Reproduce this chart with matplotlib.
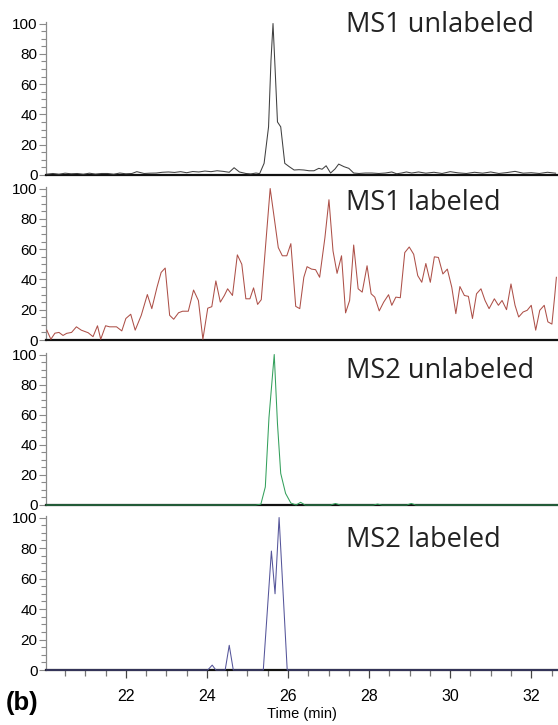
import matplotlib
matplotlib.use("Agg")
import matplotlib.pyplot as plt
from matplotlib.ticker import MultipleLocator

# MS1 unlabeled (time in min, relative abundance %)
ms1_unl_t = [
    20.05, 20.2, 20.35, 20.5, 20.65, 20.8, 20.95, 21.1, 21.25, 21.4,
    21.55, 21.7, 21.85, 22.0, 22.15, 22.27, 22.45, 22.6, 22.75, 22.9,
    23.05, 23.2, 23.35, 23.5, 23.65, 23.8, 23.95, 24.1, 24.25, 24.4,
    24.55, 24.67, 24.8, 24.96, 25.08, 25.21, 25.3, 25.41, 25.52, 25.58,
    25.63, 25.68, 25.74, 25.82, 25.92, 26.03, 26.15, 26.27, 26.39, 26.52,
    26.64, 26.76, 26.84, 26.94, 27.05, 27.16, 27.25, 27.38, 27.5, 27.62,
    27.75, 27.91, 28.07, 28.24, 28.4, 28.56, 28.68, 28.8, 28.92, 29.05,
    29.22, 29.4, 29.6, 29.8, 30.0, 30.2, 30.4, 30.6, 30.8, 31.0,
    31.2, 31.4, 31.6, 31.8, 32.0, 32.2, 32.4, 32.6,
]
ms1_unl_v = [
    0.5, 1.0, 0.5, 1.2, 0.8, 1.0, 0.5, 1.2, 0.6, 1.0,
    1.0, 0.5, 1.3, 0.8, 1.0, 2.2, 1.0, 1.2, 1.3, 1.8,
    2.0, 1.7, 2.2, 1.5, 2.3, 2.0, 2.6, 2.2, 2.8, 2.4,
    1.8, 4.8, 2.0, 1.0, 0.7, 1.3, 0.9, 7.7, 31.8, 75.7,
    100.0, 71.0, 35.0, 31.8, 7.7, 5.5, 3.3, 3.5, 3.3, 2.8,
    2.8, 4.4, 3.8, 6.1, 1.3, 4.0, 7.2, 5.5, 4.4, 1.3,
    1.0, 1.3, 1.3, 1.0, 1.3, 2.0, 0.8, 1.3, 2.0, 1.3,
    2.0, 1.2, 1.8, 1.0, 2.2, 1.4, 1.0, 1.8, 1.2, 2.0,
    1.0, 1.6, 2.4, 1.2, 1.5, 1.0, 1.8, 1.2,
]

# MS1 labeled
ms1_lab_t = [
    20.05, 20.15, 20.25, 20.35, 20.45, 20.54, 20.66, 20.78, 20.9, 21.07,
    21.19, 21.3, 21.38, 21.5, 21.6, 21.77, 21.9, 22.0, 22.12, 22.23,
    22.38, 22.53, 22.64, 22.77, 22.87, 22.97, 23.08, 23.18, 23.3, 23.4,
    23.54, 23.67, 23.79, 23.9, 24.02, 24.12, 24.22, 24.33, 24.43, 24.51,
    24.63, 24.75, 24.86, 24.96, 25.06, 25.15, 25.25, 25.34, 25.56, 25.66,
    25.76, 25.86, 25.97, 26.07, 26.19, 26.29, 26.39, 26.47, 26.58, 26.68,
    26.78, 26.91, 27.01, 27.11, 27.21, 27.32, 27.42, 27.52, 27.62, 27.73,
    27.83, 27.95, 28.05, 28.14, 28.25, 28.36, 28.48, 28.56, 28.66, 28.77,
    28.88, 28.99, 29.1, 29.2, 29.3, 29.4, 29.51, 29.61, 29.71, 29.82,
    29.93, 30.04, 30.14, 30.24, 30.35, 30.45, 30.55, 30.65, 30.76, 30.86,
    30.96, 31.09, 31.19, 31.28, 31.39, 31.5, 31.6, 31.69, 31.8, 31.9,
    32.0, 32.11, 32.21, 32.32, 32.41, 32.51, 32.58, 32.62,
]
ms1_lab_v = [
    6.5, 0.5, 4.5, 5.0, 3.0, 4.4, 5.0, 8.7, 6.5, 4.8,
    2.2, 9.4, 0.5, 9.4, 8.7, 8.7, 6.0, 14.2, 17.0, 6.5,
    16.3, 30.0, 20.7, 35.0, 44.6, 47.5, 16.3, 13.7, 18.0, 19.0,
    19.0, 33.0, 26.0, 0.5, 21.0, 22.0, 39.0, 25.0, 29.4, 33.8,
    29.4, 56.2, 50.0, 27.2, 27.2, 34.4, 23.5, 26.6, 100.0, 80.6,
    61.0, 55.6, 55.6, 63.6, 22.2, 20.7, 41.4, 48.4, 46.8, 46.4,
    41.4, 67.5, 92.6, 58.8, 44.0, 55.6, 17.9, 26.1, 62.7, 33.8,
    31.6, 49.0, 30.5, 28.3, 19.2, 25.0, 29.9, 22.9, 28.3, 27.9,
    57.7, 61.4, 56.6, 42.5, 38.1, 50.5, 38.1, 54.9, 54.5, 43.6,
    46.8, 34.8, 17.4, 35.3, 29.4, 28.8, 14.2, 30.5, 33.8, 26.1,
    20.7, 27.2, 22.9, 26.1, 20.0, 37.0, 22.9, 15.2, 18.5, 19.6,
    22.9, 6.5, 19.6, 22.9, 12.0, 10.5, 29.4, 41.4,
]

# MS2 unlabeled
ms2_unl_t = [
    20.03, 25.2, 25.33, 25.44, 25.53, 25.66, 25.74, 25.82, 25.94, 26.07,
    26.2, 26.31, 26.42, 27.05, 27.17, 27.29, 28.1, 28.21, 28.32, 28.93,
    29.04, 29.15, 32.66,
]
ms2_unl_v = [
    0.0, 0.0, 0.5, 12.0, 58.0, 100.0, 54.0, 21.0, 7.7, 1.3,
    0.0, 1.8, 0.0, 0.0, 1.0, 0.0, 0.0, 0.6, 0.0, 0.0,
    1.0, 0.0, 0.0,
]

# MS2 labeled
ms2_lab_t = [
    20.03, 24.02, 24.13, 24.22, 24.45, 24.55, 24.65, 25.39, 25.59, 25.68,
    25.78, 25.98, 32.66,
]
ms2_lab_v = [
    0.0, 0.0, 3.2, 0.0, 0.0, 16.2, 0.0, 0.0, 78.0, 50.0,
    100.0, 0.0, 0.0,
]

panel_names = ["MS1 unlabeled", "MS1 labeled", "MS2 unlabeled", "MS2 labeled"]
panel_colors = ["#404040", "#ad5048", "#34a05c", "#55559a"]

W, H = 558, 725


def px_box(top, bottom, left=46, right=558):
    return [left / W, 1 - bottom / H, (right - left) / W, (bottom - top) / H]


def style_axis(ax, show_x):
    ax.set_xlim(20.03, 32.66)
    ax.set_ylim(0, 101)
    ax.set_facecolor("none")
    for side in ["top", "right"]:
        ax.spines[side].set_visible(False)
    ax.spines["left"].set_color("#8a8a8a")
    ax.spines["left"].set_linewidth(0.9)
    ax.spines["bottom"].set_color("#111111")
    ax.spines["bottom"].set_linewidth(1.6)
    ax.yaxis.set_major_locator(MultipleLocator(20))
    ax.yaxis.set_minor_locator(MultipleLocator(5))
    ax.tick_params(axis="y", which="major", length=5, width=0.8,
                   color="#8a8a8a", labelsize=11, pad=1)
    ax.tick_params(axis="y", which="minor", length=3.5, width=0.8,
                   color="#8a8a8a")
    ax.xaxis.set_major_locator(MultipleLocator(2))
    ax.xaxis.set_minor_locator(MultipleLocator(0.5))
    if show_x:
        ax.tick_params(axis="x", which="major", length=5.5, width=0.9,
                       color="#444444", labelsize=11.5, pad=8)
        ax.tick_params(axis="x", which="minor", length=4, width=0.9,
                       color="#777777")
    else:
        ax.tick_params(axis="x", which="both", bottom=False,
                       labelbottom=False)


plt.rcParams["font.family"] = ["Liberation Sans", "DejaVu Sans"]
fig = plt.figure(figsize=(W / 100, H / 100), dpi=100)

boxes = [(22, 175), (187, 340), (353, 505), (516, 670)]
series = [
    (ms1_unl_t, ms1_unl_v),
    (ms1_lab_t, ms1_lab_v),
    (ms2_unl_t, ms2_unl_v),
    (ms2_lab_t, ms2_lab_v),
]
title_baselines = [32, 210, 378, 547]

for i, (top, bottom) in enumerate(boxes):
    ax = fig.add_axes(px_box(top, bottom))
    t, v = series[i]
    ax.plot(t, v, color=panel_colors[i], linewidth=0.75, clip_on=False,
            zorder=3)
    style_axis(ax, show_x=(i == 3))
    fig.text(346 / W, 1 - title_baselines[i] / H, panel_names[i],
             fontsize=19.5, family="Open Sans", color="#222222",
             ha="left", va="baseline")
    if i == 3:
        ax.set_xlabel("Time (min)", fontsize=10.5, labelpad=2)

fig.text(22 / W, 1 - 703 / H, "(b)", fontsize=18.5, fontweight="bold",
         ha="center", va="center")

fig.savefig("out.png", dpi=100)
